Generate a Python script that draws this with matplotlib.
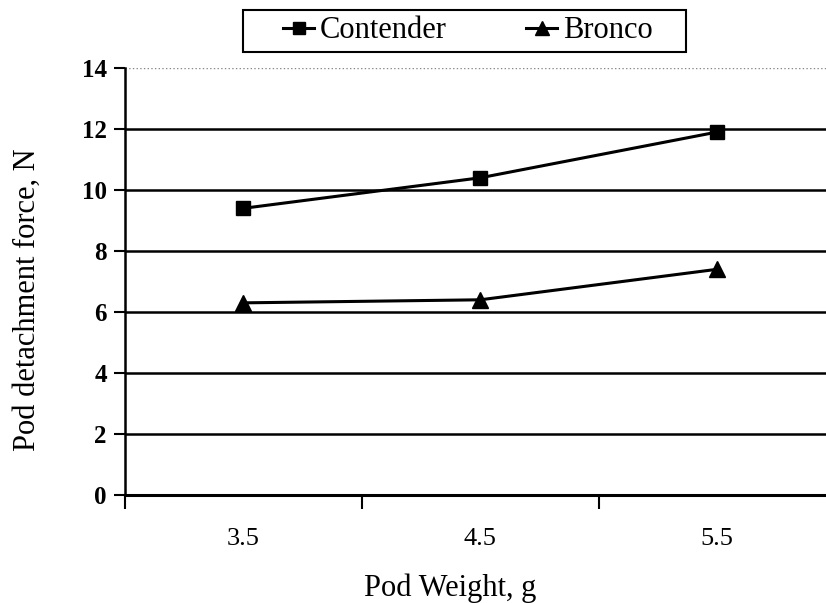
import numpy as np
import matplotlib.pyplot as plt
from matplotlib.ticker import FixedLocator
from matplotlib.patches import Rectangle

# data
weights = ['3.5', '4.5', '5.5']
contender = [9.4, 10.4, 11.9]
bronco = [6.3, 6.4, 7.4]

plt.rcParams['font.family'] = ['Liberation Serif', 'DejaVu Serif']

W, H = 826, 603
fig = plt.figure(figsize=(W / 100, H / 100), dpi=100)
ax = fig.add_axes([125 / W, 1 - 495 / H, 1 - 125 / W, (495 - 68) / H])

x = np.arange(len(weights))
ax.plot(x, contender, color='black', lw=2.2, marker='s', ms=10, label='Contender')
ax.plot(x, bronco, color='black', lw=2.2, marker='^', ms=11, label='Bronco')

ax.set_xlim(-0.5, 2.46)
ax.set_ylim(0, 14)
ax.set_yticks(range(0, 15, 2))
for v in range(2, 14, 2):
    ax.axhline(v, color='black', lw=1.8, zorder=0)
ax.axhline(14, color='#888888', lw=1, ls=':', zorder=0)

ax.set_xticks(x)
ax.set_xticklabels(weights, fontsize=19)
ax.xaxis.set_minor_locator(FixedLocator([-0.5, 0.5, 1.5]))
ax.tick_params(axis='x', which='major', length=0, pad=24)
ax.tick_params(axis='x', which='minor', length=10, width=1.5, direction='out')
ax.tick_params(axis='y', length=8, width=1.5, pad=5)
ax.set_yticklabels([str(v) for v in range(0, 15, 2)], fontsize=18, fontweight='bold')

for s in ['top', 'right']:
    ax.spines[s].set_visible(False)
ax.spines['left'].set_linewidth(1.8)
ax.spines['bottom'].set_linewidth(2.2)

# axis titles placed like the scan
fig.text(450 / W, (H - 596) / H, 'Pod Weight, g', fontsize=22, ha='center', va='baseline')
fig.text(27 / W, 1 - 300 / H, 'Pod detachment force, N', fontsize=22,
         rotation=90, ha='center', va='center')

# legend with its own box
fig.patches.append(Rectangle((243 / W, 1 - 52 / H), (686 - 243) / W, 42 / H,
                             transform=fig.transFigure, fill=False,
                             edgecolor='black', lw=1.5))
fig.legend(*ax.get_legend_handles_labels(), loc='center',
           bbox_to_anchor=(468 / W, 1 - 31 / H), ncol=2, frameon=False,
           fontsize=22, handlelength=1.0, handletextpad=0.2, columnspacing=2.6,
           markerscale=0.9)

fig.savefig('out.png', dpi=100)
